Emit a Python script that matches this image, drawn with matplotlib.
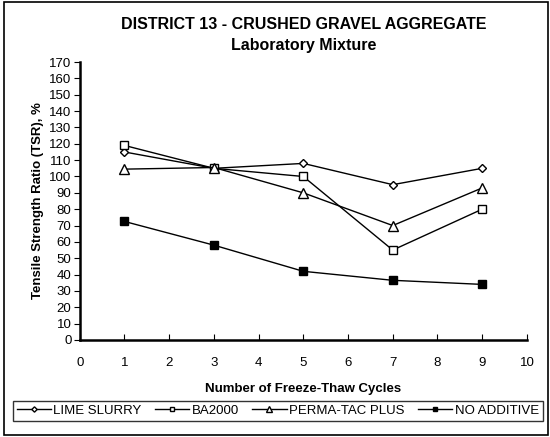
import matplotlib.pyplot as plt
from matplotlib.patches import Rectangle

plt.rcParams['font.family'] = 'Liberation Sans'

cycles = [1, 3, 5, 7, 9]
lime_slurry = [115, 105, 108, 95, 105]
ba2000 = [119, 105, 100, 55, 80]
perma_tac = [104.5, 105.5, 90, 70, 93]
no_additive = [72.5, 58, 42, 36.5, 34]

fig = plt.figure(figsize=(5.5, 4.37), dpi=100)
ax = fig.add_axes([0.145, 0.222, 0.813, 0.636])

ax.plot(cycles, lime_slurry, color='black', lw=1, marker='D', ms=4.5, mfc='white', mec='black', label='LIME SLURRY')
ax.plot(cycles, ba2000, color='black', lw=1, marker='s', ms=5.5, mfc='white', mec='black', label='BA2000')
ax.plot(cycles, perma_tac, color='black', lw=1, marker='^', ms=6.5, mfc='white', mec='black', label='PERMA-TAC PLUS')
ax.plot(cycles, no_additive, color='black', lw=1, marker='s', ms=5.5, mfc='black', mec='black', label='NO ADDITIVE')

ax.set_xlim(0, 10)
ax.set_ylim(0, 170)
ax.set_xticks(range(0, 11))
ax.set_yticks(range(0, 171, 10))
for s in ['top', 'right']:
    ax.spines[s].set_visible(False)
for s in ['left', 'bottom']:
    ax.spines[s].set_linewidth(1.8)
ax.tick_params(axis='x', direction='in', length=4, labelsize=9.5, pad=12)
ax.tick_params(axis='y', direction='out', length=4, labelsize=9.5, pad=2)

ax.set_xlabel('Number of Freeze-Thaw Cycles', fontsize=9.5, fontweight='bold', labelpad=10)
ax.set_ylabel('Tensile Strength Ratio (TSR), %', fontsize=9.5, fontweight='bold', labelpad=4)
fig.text(0.552, 0.945, 'DISTRICT 13 - CRUSHED GRAVEL AGGREGATE', ha='center', va='center', fontsize=11.5, fontweight='bold')
fig.text(0.552, 0.895, 'Laboratory Mixture', ha='center', va='center', fontsize=11.5, fontweight='bold')

leg = fig.legend(loc='center', bbox_to_anchor=(0.505, 0.06), ncol=4, fontsize=9.5, frameon=True,
                 fancybox=False, edgecolor='black', handlelength=2.6, columnspacing=1.0,
                 handletextpad=0.2, borderpad=0.3, markerscale=0.6)
leg.get_frame().set_linewidth(1)

fig.patches.append(Rectangle((0.008, 0.005), 0.988, 0.99, transform=fig.transFigure,
                             fill=False, edgecolor='black', lw=1.2))

fig.savefig('out.png', dpi=100)
